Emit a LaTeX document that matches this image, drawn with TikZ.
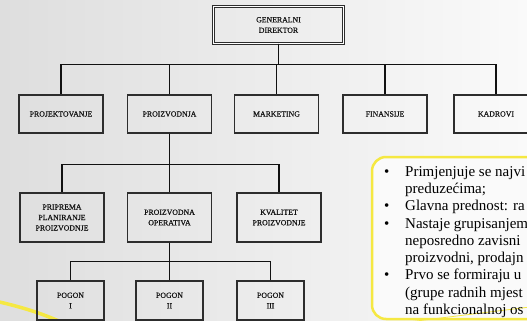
\documentclass[tikz,border=0pt]{standalone}
\usepackage{fontspec}
\setmainfont{Liberation Serif}
\newfontfamily\boxfont{Liberation Serif}[FakeBold=0.6]
\usepackage{tikz}

\begin{document}
\begin{tikzpicture}[x=1pt,y=1pt,yscale=-1,xscale=1,
		orgbox/.style={draw={rgb, 255:red, 45; green, 45; blue, 45}, line width=1.2pt, minimum width=84pt, minimum height=38pt, inner sep=1pt, align=center, text={rgb, 255:red, 20; green, 20; blue, 20}, font=\boxfont\fontsize{7.8}{10.5}\selectfont},
		widebox/.style={orgbox, minimum height=49pt},
		smallbox/.style={orgbox, minimum width=67pt, minimum height=39pt},
		link/.style={draw={rgb, 255:red, 17; green, 17; blue, 17}, line width=1.1pt}]
		\useasboundingbox (0,0) rectangle (527,321);
		\clip (0,0) rectangle (527,321);
		
		%Shape: Background
		\shade [left color={rgb, 255:red, 222; green, 222; blue, 222}, right color={rgb, 255:red, 250; green, 250; blue, 250}] (0,0) rectangle (527,321);
		%Curve Lines
		\draw [draw={rgb, 255:red, 245; green, 232; blue, 66}, line width=3.5pt] (-5,301) .. controls (22,307) and (45,314) .. (72,327);
		
		%Shape: Rounded Rect
		\draw [draw={rgb, 255:red, 245; green, 232; blue, 66}, line width=2.5pt, fill={rgb, 255:red, 250; green, 250; blue, 250}, rounded corners=14pt] (372,157) rectangle (565,319);
		\draw [draw={rgb, 255:red, 245; green, 232; blue, 66}, line width=0.8pt] (400,323) -- (530,307);
		% Text Node
		\node (notes) [anchor=north west, inner sep=0pt, font=\fontsize{15}{17.25}\selectfont] at (384,164) {%
			\begin{tabular}{@{}p{21pt}@{}l@{}}
				\textbullet & Primjenjuje se najvi\\
				& preduzećima;\\
				\textbullet & Glavna prednost: ra\\
				\textbullet & Nastaje grupisanjem\\
				& neposredno zavisni\\
				& proizvodni, prodajn\\
				\textbullet & Prvo se formiraju u\\
				& (grupe radnih mjest\\
				& na funkcionalnoj os
			\end{tabular}};
		
		%Shape: Rectangle (top)
		\node (gd) [orgbox, minimum width=130pt, minimum height=37pt, line width=0.9pt, double, double distance=1.5pt] at (278.5,25) {GENERALNI\\DIREKTOR};
		
		%Shape: Rectangles (level 1)
		\node (proj) [orgbox] at (61,114) {PROJEKTOVANJE};
		\node (proizv) [orgbox] at (169.5,114) {PROIZVODNJA};
		\node (mark) [orgbox] at (276.5,114) {MARKETING};
		\node (fin) [orgbox] at (385,114) {FINANSIJE};
		\node (kadr) [orgbox] at (496,114) {KADROVI};
		
		%Shape: Rectangles (level 2)
		\node (prip) [widebox] at (62,217.5) {PRIPREMA\\PLANIRANJE\\PROIZVODNJE};
		\node (oper) [widebox] at (169.5,217.5) {PROIZVODNA\\OPERATIVA};
		\node (kval) [widebox] at (279,217.5) {KVALITET\\PROIZVODNJE};
		
		%Shape: Rectangles (level 3)
		\node (pog1) [smallbox] at (70.5,300.5) {POGON\\I};
		\node (pog2) [smallbox] at (169.5,300.5) {POGON\\II};
		\node (pog3) [smallbox] at (270.5,300.5) {POGON\\III};
		
		%Straight Lines
		\foreach \n in {proj,proizv,mark,fin,kadr}
			\draw [link] (gd.south) -- ++(0,21) -| (\n.north);
		\foreach \n in {prip,oper,kval}
			\draw [link] (proizv.south) -- ++(0,31) -| (\n.north);
		\foreach \n in {pog1,pog2,pog3}
			\draw [link] (oper.south) -- ++(0,19) -| (\n.north);
		
\end{tikzpicture}
\end{document}
